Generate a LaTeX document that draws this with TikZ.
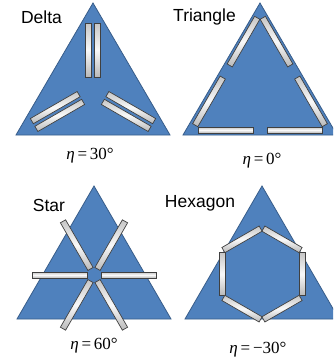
\documentclass[tikz,border=0pt]{standalone}
\usepackage{fontspec}
\setmainfont{Liberation Sans}
\newfontfamily\tnr{Liberation Serif}
\definecolor{triblue}{HTML}{4F81BD}
\definecolor{triedge}{HTML}{385D8A}
\definecolor{rodedge}{HTML}{404040}
\begin{document}
\begin{tikzpicture}[x=1pt,y=-1pt,
  tri/.style={fill=triblue, draw=triedge, line width=0.8pt},
  rod/.style={rectangle, draw=rodedge, line width=0.7pt, minimum height=6pt, inner sep=0pt,
              top color=gray!45, bottom color=gray!55, middle color=gray!5},
  lbl/.style={font=\fontsize{17.5}{20}\selectfont, inner sep=0pt},
  eta/.style={font=\tnr\fontsize{17}{20}\selectfont, inner sep=0pt}]
\useasboundingbox (0,0) rectangle (333,362);
\clip (0,0) rectangle (333,362);
\fill[white] (0,0) rectangle (333,362);

% triangles
\draw[tri] (93,3) -- (170,135) -- (16,135) -- cycle;
\draw[tri] (260,3) -- (337,135) -- (183,135) -- cycle;
\draw[tri] (94,186) -- (171,319) -- (17,319) -- cycle;
\draw[tri] (262,186) -- (339,319) -- (185,319) -- cycle;

% Delta rods
\begin{scope}[shift={(93,91)}]
\foreach \a in {0,120,240}{
  \begin{scope}[rotate=\a, transform shape]
    \node[rod, minimum width=54pt, rotate=90] (da\a) at (-4.5,-41) {};
    \node[rod, minimum width=54pt, rotate=90] (db\a) at (4.5,-41) {};
  \end{scope}
}
\end{scope}

% Triangle rods
\begin{scope}[shift={(260,91)}]
\foreach \a in {0,120,240}{
  \begin{scope}[rotate=\a, transform shape]
    \node[rod, minimum width=55pt] (ta\a) at (-34.5,39) {};
    \node[rod, minimum width=55pt] (tb\a) at (34.5,39) {};
  \end{scope}
}
\end{scope}

% Star rods
\begin{scope}[shift={(94,275)}]
\foreach \a in {0,60,120,180,240,300}{
  \begin{scope}[rotate=\a, transform shape]
    \node[rod, minimum width=55pt] (s\a) at (34.5,0) {};
  \end{scope}
}
\end{scope}

% Hexagon rods
\begin{scope}[shift={(262,274)}]
\foreach \a in {0,60,120,180,240,300}{
  \begin{scope}[rotate=\a, transform shape]
    \node[rod, minimum width=43pt, rotate=90] (h\a) at (40,0) {};
  \end{scope}
}
\end{scope}

% labels
\node[lbl] (ldelta) at (41.5,17) {Delta};
\node[lbl] (ltri) at (204.5,17) {Triangle};
\node[lbl] (lstar) at (49,205) {Star};
\node[lbl] (lhex) at (200,203) {Hexagon};

\node[eta] (e1) at (90,156) {{\itshape η}\,=\,30°};
\node[eta] (e2) at (262,161) {{\itshape η}\,=\,0°};
\node[eta] (e3) at (94,346) {{\itshape η}\,=\,60°};
\node[eta] (e4) at (258,350) {{\itshape η}\,=\,−30°};
\end{tikzpicture}
\end{document}
